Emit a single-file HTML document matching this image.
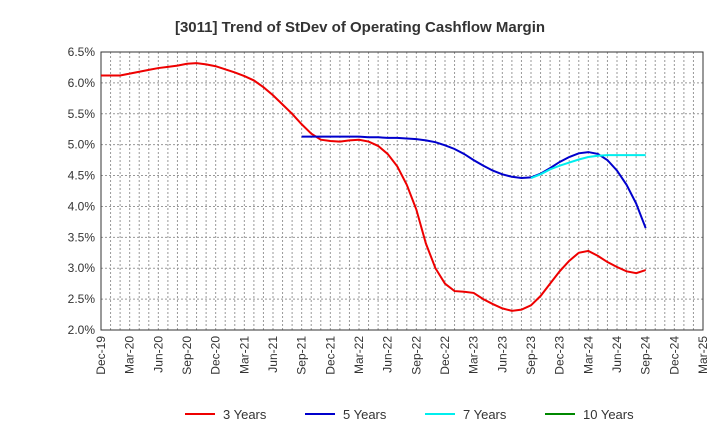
<!DOCTYPE html>
<html><head><meta charset="utf-8"><style>
body{margin:0;background:#fff;font-family:"Liberation Sans",sans-serif}
svg text{font-family:"Liberation Sans",sans-serif}
</style></head><body>
<svg id="c" width="720" height="440" xmlns="http://www.w3.org/2000/svg"></svg>
<script>
const xLabels=["Dec-19","Mar-20","Jun-20","Sep-20","Dec-20","Mar-21","Jun-21","Sep-21","Dec-21","Mar-22","Jun-22","Sep-22","Dec-22","Mar-23","Jun-23","Sep-23","Dec-23","Mar-24","Jun-24","Sep-24","Dec-24","Mar-25"];
const yTicks=[2.0,2.5,3.0,3.5,4.0,4.5,5.0,5.5,6.0,6.5];
const red3=[6.12,6.12,6.12,6.15,6.18,6.21,6.24,6.26,6.28,6.31,6.32,6.30,6.27,6.22,6.17,6.11,6.04,5.93,5.80,5.65,5.50,5.33,5.18,5.08,5.06,5.05,5.07,5.08,5.05,4.98,4.85,4.65,4.35,3.95,3.40,3.00,2.75,2.63,2.62,2.60,2.50,2.42,2.35,2.31,2.33,2.40,2.55,2.75,2.95,3.12,3.25,3.28,3.20,3.10,3.02,2.95,2.92,2.97];
const blue5=[5.13,5.13,5.13,5.13,5.13,5.13,5.13,5.12,5.12,5.11,5.11,5.10,5.09,5.07,5.04,4.99,4.93,4.85,4.75,4.66,4.58,4.52,4.48,4.46,4.47,4.53,4.62,4.72,4.80,4.86,4.88,4.85,4.75,4.58,4.35,4.05,3.65];
const cyan7=[4.46,4.52,4.60,4.66,4.71,4.76,4.80,4.82,4.83,4.83,4.83,4.83,4.83];
const green10=[];
const NS="http://www.w3.org/2000/svg",svg=document.getElementById('c');
const L=101,R=703,T=52,B=330,NM=63;
const x=m=>L+(R-L)*m/NM, y=v=>B-(v-2.0)/4.5*(B-T);
function mk(t,a,p){const e=document.createElementNS(NS,t);for(const k in a)e.setAttribute(k,a[k]);(p||svg).appendChild(e);return e;}
let t=mk('text',{x:360,y:32,'text-anchor':'middle','font-size':15,'font-weight':'bold',fill:'#333'});t.textContent='[3011]  Trend of StDev of Operating Cashflow Margin';

const g=mk('g',{});
for(let m=1;m<NM;m++)mk('line',{x1:x(m),x2:x(m),y1:T,y2:B,stroke:'#999','stroke-dasharray':'2,2','stroke-width':1},g);
yTicks.forEach(v=>{mk('line',{x1:L,x2:R,y1:y(v),y2:y(v),stroke:'#999','stroke-dasharray':'2,2'},g);
 const e=mk('text',{x:L-6,y:y(v)+4,'text-anchor':'end','font-size':12,fill:'#333'});e.textContent=v.toFixed(1)+'%';
 });
xLabels.forEach((s,i)=>{const px=x(i*3);const e=mk('text',{transform:`translate(${px+4},${B+6}) rotate(-90)`,'text-anchor':'end','font-size':12,fill:'#333'});e.textContent=s;
 });
const f=mk('rect',{x:L,y:T,width:R-L,height:B-T,fill:'none',stroke:'#333','stroke-width':1});

function line(arr,start,col,name){if(!arr.length)return;const p=mk('polyline',{points:arr.map((v,i)=>x(start+i)+','+y(v)).join(' '),fill:'none',stroke:col,'stroke-width':2});
 }
line(red3,0,'#e00','series-3-years');line(blue5,21,'#00c','series-5-years');line(cyan7,45,'#0ee','series-7-years');line(green10,57,'#080','series-10-years');
const lg=[["3 Years","#e00"],["5 Years","#00c"],["7 Years","#0ee"],["10 Years","#080"]],lx=[185,305,425,545];
lg.forEach((d,i)=>{const gg=mk('g',{});
 mk('line',{x1:lx[i],x2:lx[i]+30,y1:414,y2:414,stroke:d[1],'stroke-width':2},gg);
 const e=mk('text',{x:lx[i]+38,y:419,'font-size':13,fill:'#333'},gg);e.textContent=d[0];});
</script></body></html>
